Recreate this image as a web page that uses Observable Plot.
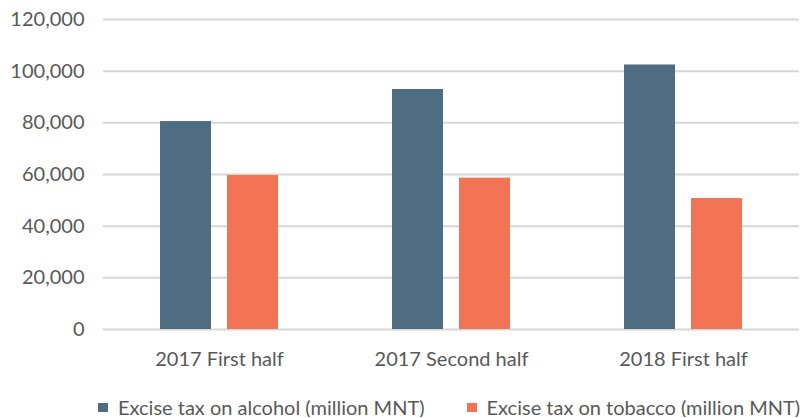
<!DOCTYPE html>
<html>
<head>
<meta charset="utf-8">
<script src="https://cdn.jsdelivr.net/npm/d3@7"></script>
<script src="https://cdn.jsdelivr.net/npm/@observablehq/plot@0.6"></script>
<style>
  html, body { margin: 0; padding: 0; background: #fff; }
  body { width: 805px; font-family: Lato, "Open Sans", sans-serif; }
  #chart svg { display: block; }
  #legend { display: flex; gap: 42px; padding-left: 98px; margin-top: 25px; height: 20px; line-height: 20px; align-items: center;
            font-size: 20px; color: #595959; font-family: Lato, sans-serif; white-space: nowrap; }
  #legend .item { display: flex; align-items: center; gap: 10px; }
  #legend .sw { width: 10px; height: 9px; display: inline-block; }
</style>
</head>
<body>
<div id="chart"></div>
<div id="legend"></div>
<script>
const periods = ["2017 First half", "2017 Second half", "2018 First half"];
const seriesNames = ["Excise tax on alcohol (million MNT)", "Excise tax on tobacco (million MNT)"];
const alcohol = [80500, 92900, 102400];
const tobacco = [59600, 58600, 50700];
const colors = ["#4e6d83", "#f27455"];
const yTicks = [0, 20000, 40000, 60000, 80000, 100000, 120000];

const data = [];
periods.forEach((p, i) => {
  data.push({period: p, series: seriesNames[0], value: alcohol[i]});
  data.push({period: p, series: seriesNames[1], value: tobacco[i]});
});

const chart = Plot.plot({
  width: 805,
  height: 372,
  marginLeft: 102,
  marginRight: 6,
  marginTop: 19,
  marginBottom: 43,
  style: {fontFamily: "Lato, sans-serif", color: "#595959", background: "#fff"},
  fx: {domain: periods, padding: 0, label: null},
  x: {domain: seriesNames, paddingInner: 0.235, paddingOuter: 0.826, axis: null},
  y: {domain: [0, 120000], axis: null},
  color: {domain: seriesNames, range: colors},
  marks: [
    Plot.ruleY(yTicks, {stroke: "#d6d6d6", strokeWidth: 2}),
    Plot.barY(data, {fx: "period", x: "series", y: "value", fill: "series"}),
    Plot.axisY(yTicks, {tickSize: 0, tickPadding: 19, tickFormat: d3.format(","), fontSize: 20, fill: "#595959", label: null}),
    Plot.axisFx({anchor: "bottom", tickSize: 0, tickPadding: 22, fontSize: 20, fill: "#595959", label: null})
  ]
});
document.getElementById("chart").appendChild(chart);

const legend = document.getElementById("legend");
seriesNames.forEach((s, i) => {
  const item = document.createElement("div");
  item.className = "item";
  const sw = document.createElement("span");
  sw.className = "sw";
  sw.style.background = colors[i];
  const t = document.createElement("span");
  t.textContent = s;
  item.appendChild(sw);
  item.appendChild(t);
  legend.appendChild(item);
});
</script>
</body>
</html>
